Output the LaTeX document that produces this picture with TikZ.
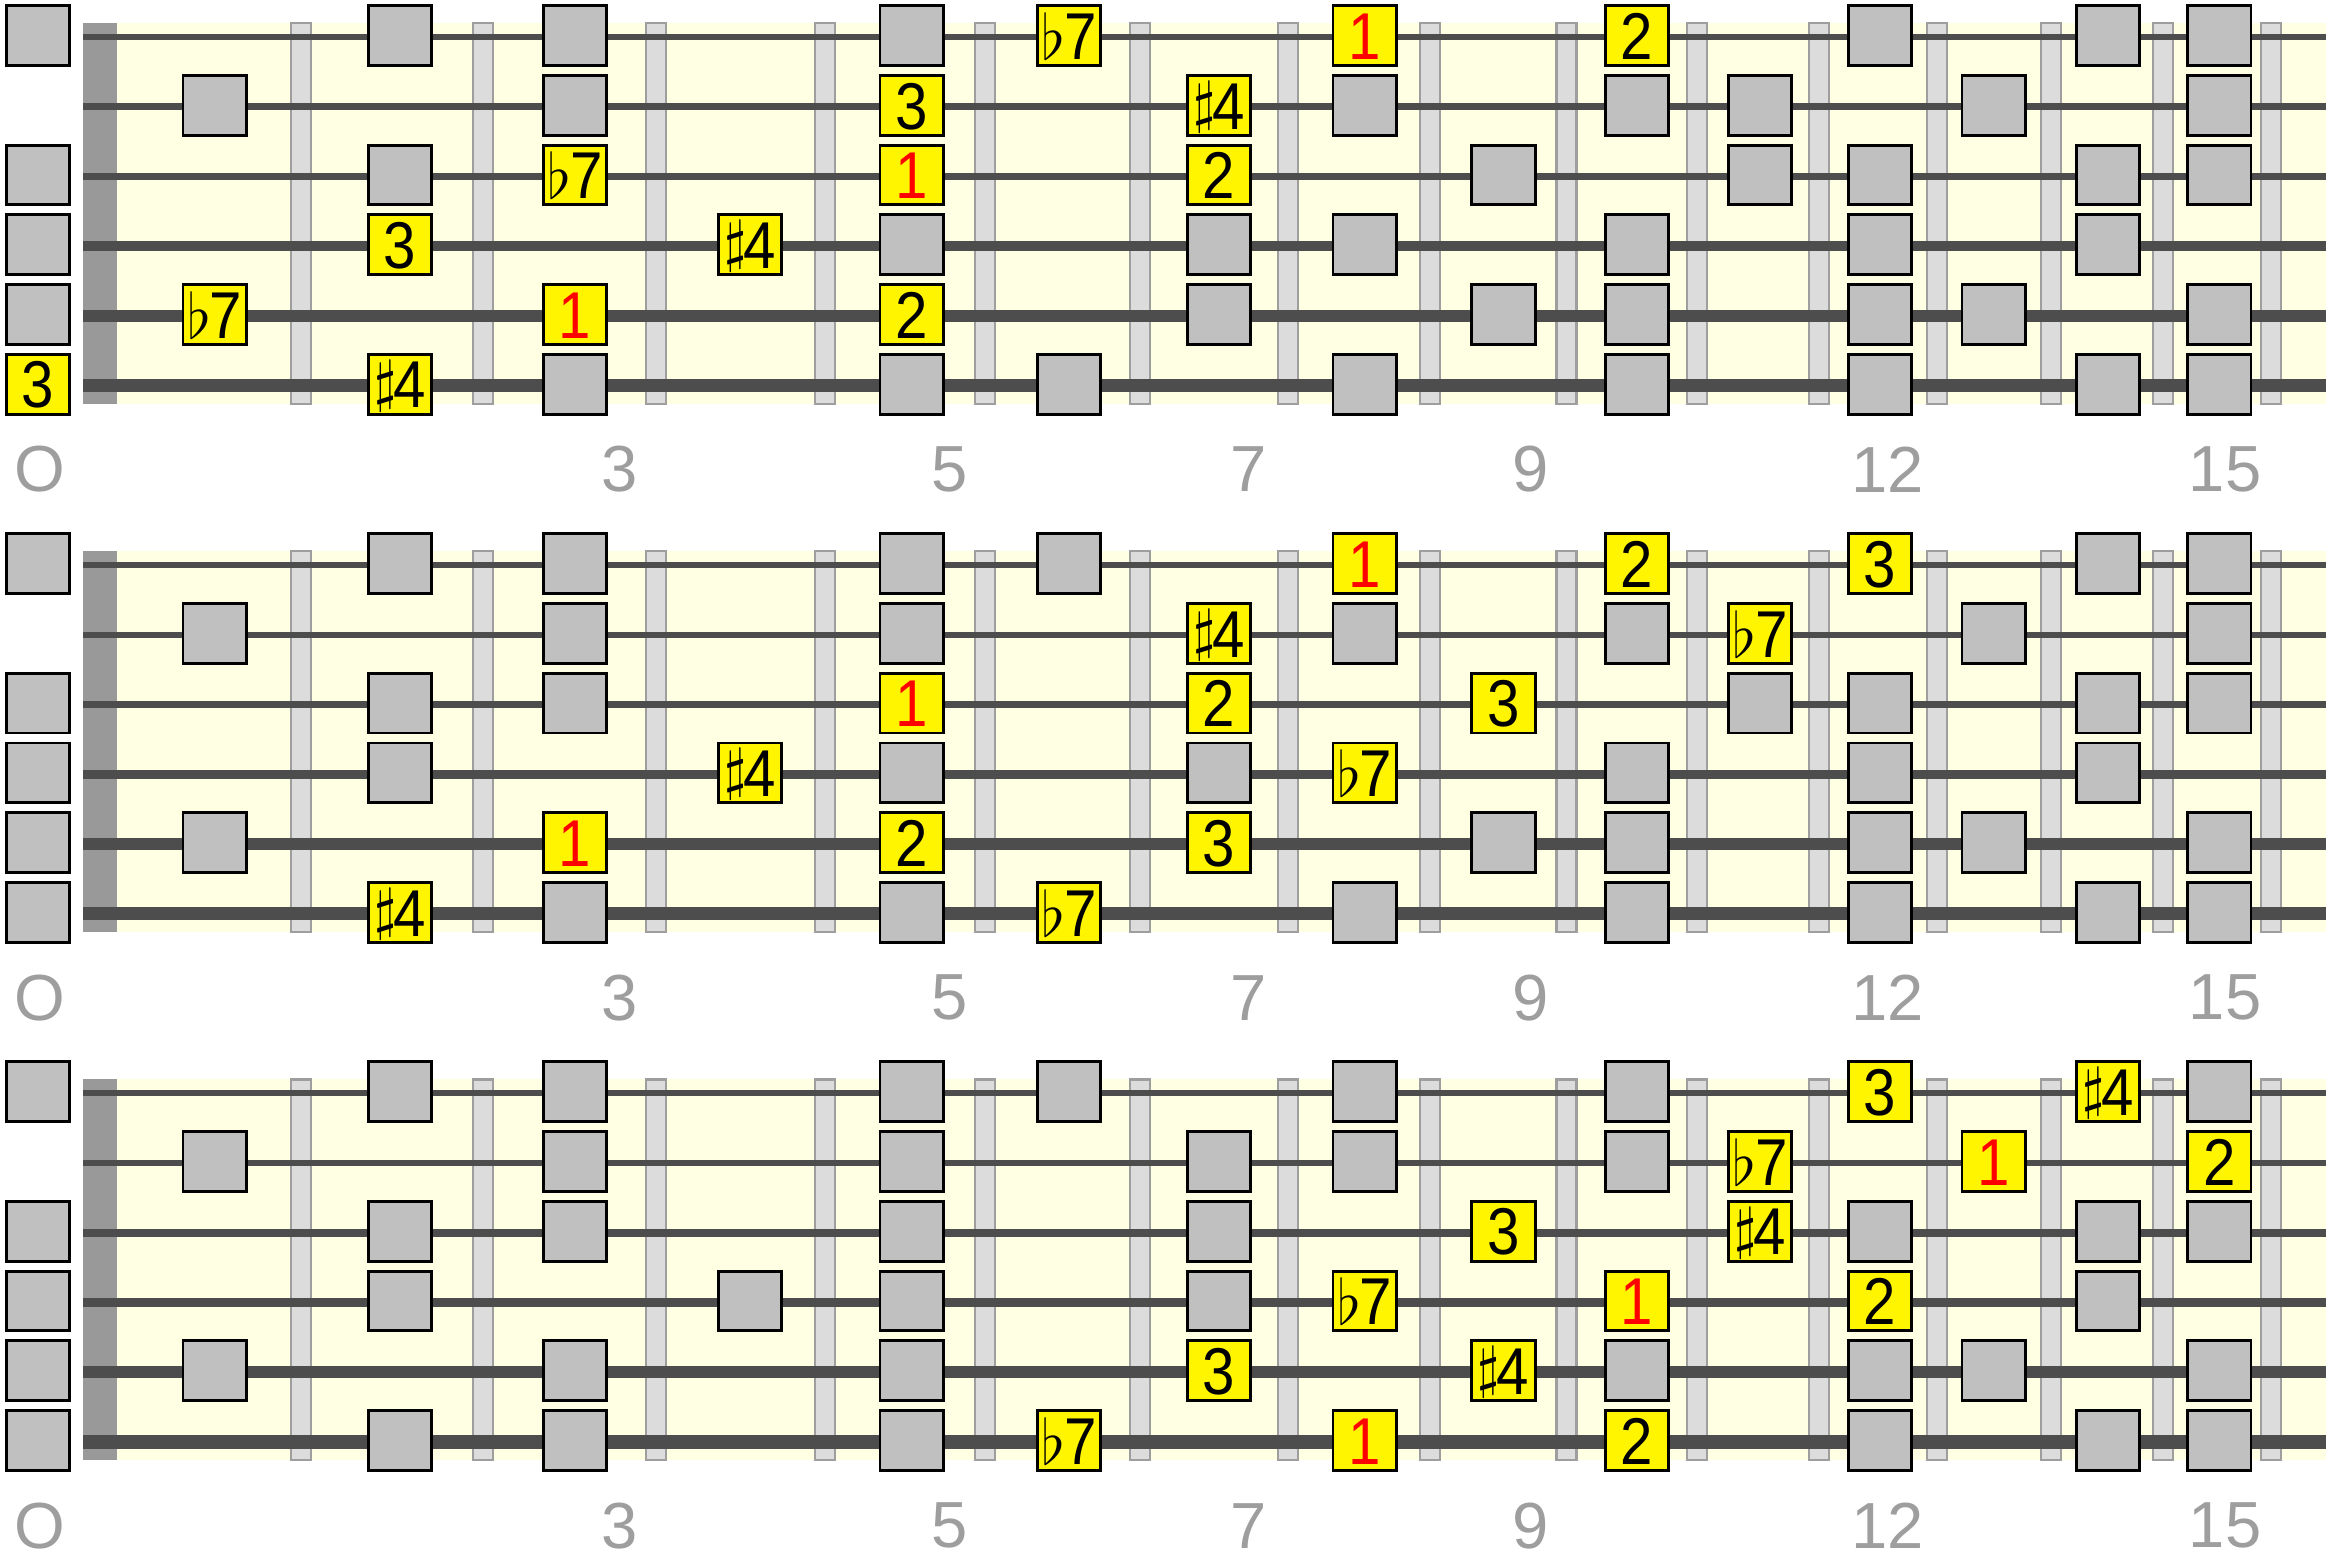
\documentclass[tikz,border=0pt]{standalone}
\usepackage{fontspec}
\setmainfont{Liberation Sans}
\newfontfamily\boxfont[FakeStretch=0.88]{Liberation Sans}

\definecolor{boardyellow}{RGB}{255,255,228}
\definecolor{nutgrey}{RGB}{153,153,153}
\definecolor{wirefill}{RGB}{220,220,220}
\definecolor{wireedge}{RGB}{158,158,158}
\definecolor{stringgrey}{RGB}{77,77,77}
\definecolor{boxgrey}{RGB}{192,192,192}
\definecolor{boxyellow}{RGB}{255,245,0}
\definecolor{numgrey}{RGB}{158,158,158}

% degrés altérés
\newcommand{\flatseven}{{\fontsize{11.5}{11.5}\selectfont$\flat$}\kern-0.2pt 7}
\newcommand{\sharpfour}{\raisebox{1.5pt}{\fontsize{11}{11}\selectfont$\sharp$}\kern-0.6pt 4}

\tikzset{
  notebox/.style={draw=black, line width=0.55pt, minimum width=4.28mm, minimum height=4.03mm,
    inner sep=0pt, text height=9.1pt, text depth=0pt, font=\boxfont\fontsize{12.7}{12.7}\selectfont},
  greybox/.style={notebox, fill=boxgrey},
  yellowbox/.style={notebox, fill=boxyellow},
  rootbox/.style={yellowbox, text=red},
  fretwire/.style={fill=wirefill, draw=wireedge, line width=0.4pt},
  fretnum/.style={text=numgrey, inner sep=0pt, font=\fontsize{12.5}{12.5}\selectfont}
}

\begin{document}
\begin{tikzpicture}[x=0.1mm, y=-0.1mm]
\useasboundingbox (0,0) rectangle (1568,1050);

% Colonnes des cases (0 = corde à vide)
\foreach \f/\x in {0/25.6,1/144.8,2/269.7,3/387.5,4/505.6,5/614.6,6/720.6,7/821.7,8/920,
    9/1013.5,10/1103.6,11/1186.5,12/1267.4,13/1344,14/1421,15/1496}
  \coordinate (f\f) at (\x,0);

% --- LES TROIS MANCHES ---
\foreach \dy in {0,356,712} {
  \begin{scope}[shift={(0,\dy)}]
    \fill[boardyellow] (56,15.7) rectangle (1568,272.5); % touche
    \fill[nutgrey] (56,15.7) rectangle (79,272.5); % sillet

    % Frettes
    \foreach \x in {203,325.6,442.4,556,664,768.6,868,964,1056,1144,1226,1306,1382.5,1458,1530.8}
      \draw[fretwire] (\x-6.75,15.7) rectangle (\x+6.75,272.5);

    % Cordes
    \foreach \y/\w in {25/1.15,72/1.27,119/1.47,166/1.85,213/2.23,260/2.54}
      \draw[stringgrey, line width=\w pt] (56,\y) -- (1568,\y);

    % Numéros de cases
    \foreach \n/\x in {O/27,3/418,5/640,7/842,9/1032,12/1272.5,15/1500}
      \node[fretnum] (num\dy-\n) at (\x,316.5) {\n};
  \end{scope}
}

% --- PREMIER MANCHE ---
\begin{scope}[shift={(0,0)}]
  \foreach \s/\y in {1/24,2/71,3/118,4/165,5/212,6/259}
    \coordinate (s\s) at (0,\y);

  % Autres notes de la gamme
  \foreach \s/\f in {1/0,1/2,1/3,1/5,1/12,1/14,1/15,
      2/1,2/3,2/8,2/10,2/11,2/13,2/15,
      3/0,3/2,3/9,3/11,3/12,3/14,3/15,
      4/0,4/5,4/7,4/8,4/10,4/12,4/14,
      5/0,5/7,5/9,5/10,5/12,5/13,5/15,
      6/3,6/5,6/6,6/8,6/10,6/12,6/14,6/15}
    \node[greybox] (a\s-\f) at (f\f |- s\s) {};

  % Degrés
  \node[yellowbox] (a1-6) at (f6 |- s1) {\flatseven};
  \node[rootbox] (a1-8) at (f8 |- s1) {1};
  \node[yellowbox] (a1-10) at (f10 |- s1) {2};
  \node[yellowbox] (a2-5) at (f5 |- s2) {3};
  \node[yellowbox] (a2-7) at (f7 |- s2) {\sharpfour};
  \node[yellowbox] (a3-3) at (f3 |- s3) {\flatseven};
  \node[rootbox] (a3-5) at (f5 |- s3) {1};
  \node[yellowbox] (a3-7) at (f7 |- s3) {2};
  \node[yellowbox] (a4-2) at (f2 |- s4) {3};
  \node[yellowbox] (a4-4) at (f4 |- s4) {\sharpfour};
  \node[yellowbox] (a5-1) at (f1 |- s5) {\flatseven};
  \node[rootbox] (a5-3) at (f3 |- s5) {1};
  \node[yellowbox] (a5-5) at (f5 |- s5) {2};
  \node[yellowbox] (a6-0) at (f0 |- s6) {3};
  \node[yellowbox] (a6-2) at (f2 |- s6) {\sharpfour};
\end{scope}

% --- DEUXIÈME MANCHE ---
\begin{scope}[shift={(0,356)}]
  \foreach \s/\y in {1/24,2/71,3/118,4/165,5/212,6/259}
    \coordinate (s\s) at (0,\y);

  % Autres notes de la gamme
  \foreach \s/\f in {1/0,1/2,1/3,1/5,1/6,1/14,1/15,
      2/1,2/3,2/5,2/8,2/10,2/13,2/15,
      3/0,3/2,3/3,3/11,3/12,3/14,3/15,
      4/0,4/2,4/5,4/7,4/10,4/12,4/14,
      5/0,5/1,5/9,5/10,5/12,5/13,5/15,
      6/0,6/3,6/5,6/8,6/10,6/12,6/14,6/15}
    \node[greybox] (b\s-\f) at (f\f |- s\s) {};

  % Degrés
  \node[rootbox] (b1-8) at (f8 |- s1) {1};
  \node[yellowbox] (b1-10) at (f10 |- s1) {2};
  \node[yellowbox] (b1-12) at (f12 |- s1) {3};
  \node[yellowbox] (b2-7) at (f7 |- s2) {\sharpfour};
  \node[yellowbox] (b2-11) at (f11 |- s2) {\flatseven};
  \node[rootbox] (b3-5) at (f5 |- s3) {1};
  \node[yellowbox] (b3-7) at (f7 |- s3) {2};
  \node[yellowbox] (b3-9) at (f9 |- s3) {3};
  \node[yellowbox] (b4-4) at (f4 |- s4) {\sharpfour};
  \node[yellowbox] (b4-8) at (f8 |- s4) {\flatseven};
  \node[rootbox] (b5-3) at (f3 |- s5) {1};
  \node[yellowbox] (b5-5) at (f5 |- s5) {2};
  \node[yellowbox] (b5-7) at (f7 |- s5) {3};
  \node[yellowbox] (b6-2) at (f2 |- s6) {\sharpfour};
  \node[yellowbox] (b6-6) at (f6 |- s6) {\flatseven};
\end{scope}

% --- TROISIÈME MANCHE ---
\begin{scope}[shift={(0,712)}]
  \foreach \s/\y in {1/24,2/71,3/118,4/165,5/212,6/259}
    \coordinate (s\s) at (0,\y);

  % Autres notes de la gamme
  \foreach \s/\f in {1/0,1/2,1/3,1/5,1/6,1/8,1/10,1/15,
      2/1,2/3,2/5,2/7,2/8,2/10,
      3/0,3/2,3/3,3/5,3/7,3/12,3/14,3/15,
      4/0,4/2,4/4,4/5,4/7,4/14,
      5/0,5/1,5/3,5/5,5/10,5/12,5/13,5/15,
      6/0,6/2,6/3,6/5,6/12,6/14,6/15}
    \node[greybox] (c\s-\f) at (f\f |- s\s) {};

  % Degrés
  \node[yellowbox] (c1-12) at (f12 |- s1) {3};
  \node[yellowbox] (c1-14) at (f14 |- s1) {\sharpfour};
  \node[yellowbox] (c2-11) at (f11 |- s2) {\flatseven};
  \node[rootbox] (c2-13) at (f13 |- s2) {1};
  \node[yellowbox] (c2-15) at (f15 |- s2) {2};
  \node[yellowbox] (c3-9) at (f9 |- s3) {3};
  \node[yellowbox] (c3-11) at (f11 |- s3) {\sharpfour};
  \node[yellowbox] (c4-8) at (f8 |- s4) {\flatseven};
  \node[rootbox] (c4-10) at (f10 |- s4) {1};
  \node[yellowbox] (c4-12) at (f12 |- s4) {2};
  \node[yellowbox] (c5-7) at (f7 |- s5) {3};
  \node[yellowbox] (c5-9) at (f9 |- s5) {\sharpfour};
  \node[yellowbox] (c6-6) at (f6 |- s6) {\flatseven};
  \node[rootbox] (c6-8) at (f8 |- s6) {1};
  \node[yellowbox] (c6-10) at (f10 |- s6) {2};
\end{scope}
\end{tikzpicture}
\end{document}
